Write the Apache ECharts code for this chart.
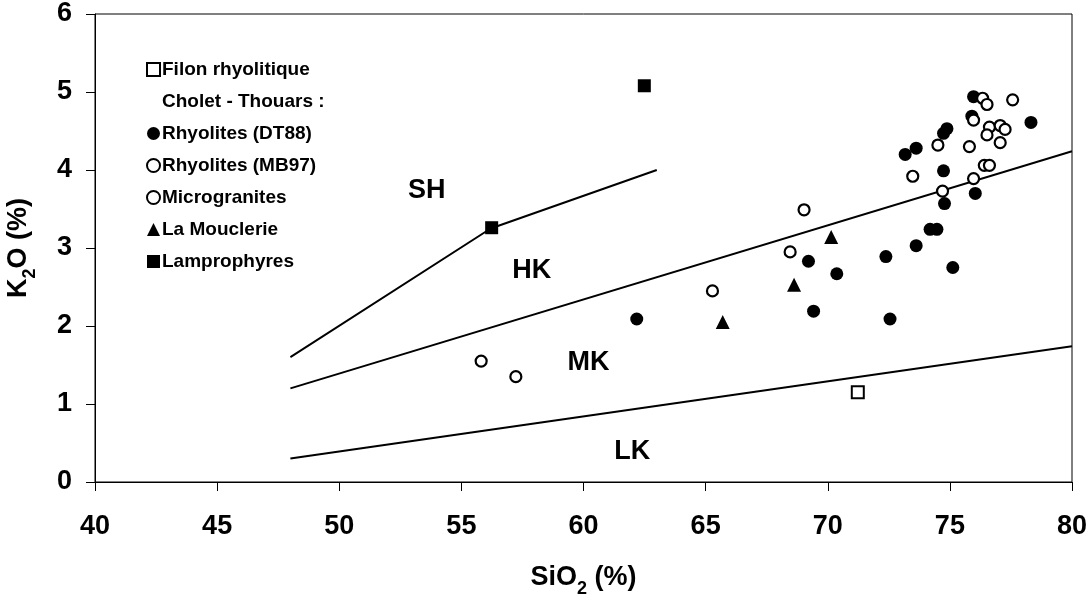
<!DOCTYPE html>
<html>
<head>
<meta charset="utf-8">
<script src="https://cdn.jsdelivr.net/npm/echarts@6/dist/echarts.min.js"></script>
<style>html,body{margin:0;padding:0;background:#fff}#c{width:1091px;height:594px}</style>
</head>
<body>
<div id="c"></div>
<script>
// ---- data ----
var xTicks = [40, 45, 50, 55, 60, 65, 70, 75, 80];
var yTicks = [0, 1, 2, 3, 4, 5, 6];

var lineSH_HK = [[48, 1.6], [56.2, 3.25], [63, 4.0]];
var lineHK_MK = [[48, 1.2], [80, 4.24]];
var lineMK_LK = [[48, 0.3], [80, 1.74]];

var filon = [[71.23, 1.15]];
var rhyoDT88 = [
  [75.97, 4.94], [75.90, 4.69], [74.88, 4.53], [74.74, 4.47], [73.62, 4.28], [73.17, 4.20],
  [78.32, 4.61], [74.74, 3.99], [76.04, 3.70], [74.78, 3.57], [74.19, 3.24], [74.47, 3.24],
  [73.62, 3.03], [72.38, 2.89], [75.12, 2.75], [70.37, 2.67], [69.21, 2.83], [69.42, 2.19],
  [72.55, 2.09], [62.18, 2.09]
];
var rhyoMB97 = [
  [74.51, 4.32], [75.80, 4.30], [75.97, 4.64], [76.34, 4.92], [76.52, 4.84], [77.57, 4.90],
  [76.62, 4.55], [77.06, 4.57], [77.26, 4.52], [76.52, 4.45], [77.06, 4.35], [76.41, 4.06],
  [76.62, 4.06], [75.97, 3.89], [74.70, 3.73]
];
var micro = [[55.81, 1.55], [57.23, 1.35], [65.28, 2.45], [68.46, 2.95], [69.03, 3.49], [73.48, 3.92]];
var mouclerie = [[70.14, 3.14], [68.62, 2.53], [65.70, 2.05]];
var lampro = [[56.24, 3.26], [62.49, 5.08]];

var regionLabels = [
  {name: 'SH', value: [53.58, 3.74]},
  {name: 'HK', value: [57.88, 2.71]},
  {name: 'MK', value: [60.20, 1.53]},
  {name: 'LK', value: [62.0, 0.39]}
];

var FONT = '"Liberation Sans", Arial, sans-serif';

var chart = echarts.init(document.getElementById('c'), null, {renderer: 'canvas'});

function lineSeries(d) {
  return {type: 'line', data: d, symbol: 'none', silent: true,
    lineStyle: {color: '#000', width: 2}, z: 2, legendHoverLink: false};
}

var titleRich = {
  a: {fontFamily: FONT, fontWeight: 'bold', fontSize: 27, color: '#000', lineHeight: 40, verticalAlign: 'middle'},
  s: {fontFamily: FONT, fontWeight: 'bold', fontSize: 18, color: '#000', lineHeight: 40, verticalAlign: 'bottom'}
};

var option = {
  animation: false,
  backgroundColor: '#fff',
  grid: {left: 95, right: 19, top: 14, bottom: 112, show: true, borderColor: '#000', borderWidth: 1,
    containLabel: false, outerBoundsMode: 'none'},
  xAxis: {
    type: 'value', min: 40, max: 80, interval: 5,
    name: '{a|SiO}{s|2}{a| (%)}', nameLocation: 'middle', nameGap: 76,
    nameTextStyle: {rich: titleRich},
    axisLine: {lineStyle: {color: '#000', width: 1}},
    axisTick: {show: true, length: 9, lineStyle: {color: '#000'}},
    axisLabel: {fontFamily: FONT, fontWeight: 'bold', fontSize: 27, color: '#000', margin: 31},
    splitLine: {show: false}
  },
  yAxis: {
    type: 'value', min: 0, max: 6, interval: 1,
    name: '{a|K}{s|2}{a|O (%)}', nameLocation: 'middle', nameGap: 56, nameRotate: 90,
    nameTextStyle: {rich: titleRich},
    axisLine: {lineStyle: {color: '#000', width: 1}},
    axisTick: {show: true, length: 9, lineStyle: {color: '#000'}},
    axisLabel: {fontFamily: FONT, fontWeight: 'bold', fontSize: 27, color: '#000', margin: 23},
    splitLine: {show: false}
  },
  legend: {
    orient: 'vertical', left: 141, top: 55, itemGap: 13,
    itemWidth: 13, itemHeight: 13,
    selectedMode: false,
    textStyle: {fontFamily: FONT, fontWeight: 'bold', fontSize: 19, color: '#000', padding: [0, 0, 0, -3]},
    data: [
      {name: 'Filon rhyolitique'},
      {name: 'Cholet - Thouars :', itemStyle: {opacity: 0}},
      {name: 'Rhyolites (DT88)'},
      {name: 'Rhyolites (MB97)'},
      {name: 'Microgranites'},
      {name: 'La Mouclerie'},
      {name: 'Lamprophyres'}
    ]
  },
  series: [
    lineSeries(lineSH_HK), lineSeries(lineHK_MK), lineSeries(lineMK_LK),
    {type: 'scatter', name: 'Filon rhyolitique', data: filon, symbol: 'rect', symbolSize: 12,
      itemStyle: {color: '#fff', borderColor: '#000', borderWidth: 2, opacity: 1}, z: 5},
    {type: 'scatter', name: 'Cholet - Thouars :', data: [], symbol: 'rect', symbolSize: 1,
      itemStyle: {color: 'rgba(0,0,0,0)'}},
    {type: 'scatter', name: 'Rhyolites (DT88)', data: rhyoDT88, symbol: 'circle', symbolSize: 13,
      itemStyle: {color: '#000', opacity: 1}, z: 4},
    {type: 'scatter', name: 'Rhyolites (MB97)', data: rhyoMB97, symbol: 'circle', symbolSize: 11,
      itemStyle: {color: '#fff', borderColor: '#000', borderWidth: 2.2, opacity: 1}, z: 5},
    {type: 'scatter', name: 'Microgranites', data: micro, symbol: 'circle', symbolSize: 11,
      itemStyle: {color: '#fff', borderColor: '#000', borderWidth: 2.2, opacity: 1}, z: 5},
    {type: 'scatter', name: 'La Mouclerie', data: mouclerie, symbol: 'triangle', symbolSize: 14,
      itemStyle: {color: '#000', opacity: 1}, z: 4},
    {type: 'scatter', name: 'Lamprophyres', data: lampro, symbol: 'rect', symbolSize: 13,
      itemStyle: {color: '#000', opacity: 1}, z: 6},
    {type: 'scatter', name: 'regions', data: regionLabels, symbolSize: 0, silent: true,
      itemStyle: {opacity: 1, color: '#000'},
      label: {show: true, position: 'inside', formatter: '{b}', fontFamily: FONT,
        fontWeight: 'bold', fontSize: 27, color: '#000', textBorderWidth: 0, opacity: 1}, z: 3}
  ]
};
chart.setOption(option);
</script>
</body>
</html>
